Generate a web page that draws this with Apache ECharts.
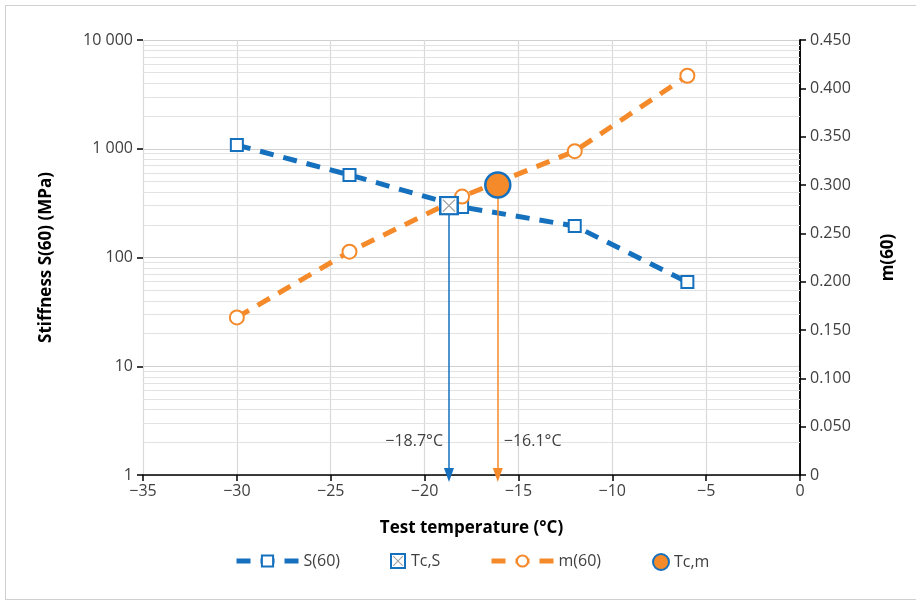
<!DOCTYPE html>
<html>
<head>
<meta charset="utf-8">
<script src="https://cdn.jsdelivr.net/npm/echarts@6/dist/echarts.min.js"></script>
<style>
html,body{margin:0;padding:0;background:#fff;}
#frame{position:absolute;left:5px;top:5px;width:920px;height:595px;border:1px solid #d0d0d0;box-sizing:border-box;}
#main{position:absolute;left:0;top:0;width:916px;height:602px;}
</style>
</head>
<body>
<div id="frame"></div>
<div id="main"></div>
<script>
// ---- data ----
const temps = [-30, -24, -18, -12, -6];
const stiffness = [1080, 575, 291, 195, 59.5];
const mValues = [0.163, 0.231, 0.288, 0.335, 0.413];
const tcS = [-18.7, 300];
const tcM = [-16.1, 0.300];
const tcSLabel = '\u221218.7\u00B0C';
const tcMLabel = '\u221216.1\u00B0C';
const leftTickLabels = ['1', '10', '100', '1 000', '10 000'];
const minorLogValues = [2,3,4,5,6,7,8,9,20,30,40,50,60,70,80,90,200,300,400,500,600,700,800,900,2000,3000,4000,5000,6000,7000,8000,9000];

const BLUE = '#1570BE';
const ORANGE = '#F58A2B';
const TXT = '#404040';
const FONT = 'Open Sans';

const xSvg = 'image://data:image/svg+xml;utf8,' + encodeURIComponent(
 '<svg xmlns="http://www.w3.org/2000/svg" width="40" height="40" viewBox="0 0 40 40">' +
 '<rect x="2.5" y="2.5" width="35" height="35" fill="#ffffff" stroke="' + BLUE + '" stroke-width="5"/>' +
 '<line x1="8" y1="8" x2="32" y2="32" stroke="#a0a0a0" stroke-width="2.6"/>' +
 '<line x1="32" y1="8" x2="8" y2="32" stroke="#a0a0a0" stroke-width="2.6"/></svg>');

const chart = echarts.init(document.getElementById('main'), null, {renderer: 'canvas'});

const legendText = {fontFamily: FONT, fontSize: 16, color: TXT};
function lineLegend(name, left, color) {
  return {
    top: 548, left: left, itemWidth: 62, itemHeight: 14, itemGap: 0,
    textStyle: legendText, selectedMode: false,
    lineStyle: {width: 5, type: [14, 10], color: color},
    data: [name]
  };
}

const option = {
  animation: false,
  backgroundColor: 'transparent',
  textStyle: {fontFamily: FONT},
  grid: {left: 143, right: 116, top: 40, bottom: 127, containLabel: false},
  legend: [
    lineLegend('S(60)', 229, BLUE),
    {top: 548, left: 385, itemWidth: 16, itemHeight: 16, textStyle: legendText, selectedMode: false,
      data: [{name: 'Tc,S', icon: xSvg}]},
    lineLegend('m(60)', 484, ORANGE),
    {top: 548, left: 647, itemWidth: 16, itemHeight: 16, textStyle: legendText, selectedMode: false,
      data: [{name: 'Tc,m', icon: 'circle', itemStyle: {color: ORANGE, borderColor: BLUE, borderWidth: 2}}]}
  ],
  xAxis: {
    type: 'value', min: -35, max: 0, interval: 5,
    name: 'Test temperature (\u00B0C)', nameLocation: 'middle', nameGap: 45,
    nameTextStyle: {fontFamily: FONT, fontSize: 17, fontWeight: 'bold', color: '#000'},
    axisLine: {onZero: false, lineStyle: {color: '#000', width: 1.5}},
    axisTick: {show: true, length: 6, lineStyle: {color: '#000', width: 1.5}},
    axisLabel: {fontFamily: FONT, fontSize: 16, color: TXT, margin: 8,
      formatter: v => v < 0 ? '\u2212' + Math.abs(v) : String(v)},
    splitLine: {show: true, lineStyle: {color: '#d9d9d9', width: 1.2}}
  },
  yAxis: [
    {
      // log scale used for plotting stiffness values
      type: 'log', logBase: 10, min: 1, max: 10000, position: 'left', offset: 0,
      name: 'Stiffness S(60) (MPa)', nameLocation: 'middle', nameGap: 88, nameRotate: 90,
      nameTextStyle: {fontFamily: FONT, fontSize: 17, fontWeight: 'bold', color: '#000'},
      axisLine: {show: true, lineStyle: {color: '#000', width: 1.5}},
      axisTick: {show: false},
      minorTick: {show: false},
      axisLabel: {show: false},
      splitLine: {show: false}
    },
    {
      type: 'value', min: 0, max: 0.45, interval: 0.05, position: 'right', offset: 0,
      name: 'm(60)', nameLocation: 'middle', nameGap: 80, nameRotate: 90,
      nameTextStyle: {fontFamily: FONT, fontSize: 17, fontWeight: 'bold', color: '#000'},
      axisLine: {show: true, lineStyle: {color: '#000', width: 1.5}},
      axisTick: {show: true, length: 6, lineStyle: {color: '#000', width: 1.5}},
      minorTick: {show: false},
      axisLabel: {fontFamily: FONT, fontSize: 16, color: TXT, margin: 10,
        formatter: v => v === 0 ? '0' : v.toFixed(3)},
      splitLine: {show: false}
    },
    {
      // decade axis (exponent of 10) for ticks, labels and major grid lines
      type: 'value', min: 0, max: 4, interval: 1, position: 'left', offset: 0,
      axisLine: {show: false},
      axisTick: {show: true, length: 6, lineStyle: {color: '#000', width: 1.5}},
      axisLabel: {fontFamily: FONT, fontSize: 16, color: TXT, margin: 10,
        formatter: v => leftTickLabels[Math.round(v)]},
      splitLine: {show: true, lineStyle: {color: '#d0d0d0', width: 1.2}}
    }
  ],
  series: [
    {
      name: 'gridMinor', type: 'line', data: [], yAxisIndex: 0, silent: true, z: 1,
      markLine: {
        silent: true, z: 1, symbol: ['none', 'none'], label: {show: false},
        lineStyle: {color: '#e2e2e2', width: 1.2, type: 'solid'},
        emphasis: {disabled: true},
        data: minorLogValues.map(v => [{coord: [-35, v]}, {coord: [0, v]}])
      }
    },
    {
      name: 'S(60)', type: 'line', yAxisIndex: 0, z: 3,
      data: temps.map((t, i) => [t, stiffness[i]]),
      symbol: 'emptyRect', symbolSize: 12,
      lineStyle: {color: BLUE, width: 5, type: [14, 10], cap: 'butt'},
      itemStyle: {color: BLUE, borderWidth: 2.5}
    },
    {
      name: 'm(60)', type: 'line', yAxisIndex: 1, z: 3,
      data: temps.map((t, i) => [t, mValues[i]]),
      symbol: 'emptyCircle', symbolSize: 14,
      lineStyle: {color: ORANGE, width: 5, type: [14, 10], cap: 'butt'},
      itemStyle: {color: ORANGE, borderWidth: 2.5}
    },
    {
      name: 'Tc,S', type: 'scatter', yAxisIndex: 0, z: 6,
      data: [tcS], symbol: xSvg, symbolSize: 20,
      itemStyle: {color: BLUE, opacity: 1},
      markLine: {
        silent: true, z: 4, symbol: ['none', 'triangle'], symbolSize: [10, 14],
        label: {show: false}, lineStyle: {color: BLUE, width: 1.5, type: 'solid'},
        data: [[{coord: [tcS[0], tcS[1]]}, {coord: [tcS[0], 1]}]]
      },
      markPoint: {
        silent: true, symbol: 'circle', symbolSize: 0,
        label: {show: true, position: 'left', distance: 6, formatter: tcSLabel,
          fontFamily: FONT, fontSize: 16, color: TXT},
        data: [{coord: [tcS[0], 2.05]}]
      }
    },
    {
      name: 'Tc,m', type: 'scatter', yAxisIndex: 1, z: 6,
      data: [tcM], symbol: 'circle', symbolSize: 25,
      itemStyle: {color: ORANGE, borderColor: BLUE, borderWidth: 2.5, opacity: 1},
      markLine: {
        silent: true, z: 4, symbol: ['none', 'triangle'], symbolSize: [10, 14],
        label: {show: false}, lineStyle: {color: ORANGE, width: 1.5, type: 'solid'},
        data: [[{coord: [tcM[0], tcM[1]]}, {coord: [tcM[0], 0]}]]
      },
      markPoint: {
        silent: true, symbol: 'circle', symbolSize: 0,
        label: {show: true, position: 'right', distance: 6, formatter: tcMLabel,
          fontFamily: FONT, fontSize: 16, color: TXT},
        data: [{coord: [tcM[0], 0.0352]}]
      }
    }
  ]
};
chart.setOption(option);
</script>
</body>
</html>
